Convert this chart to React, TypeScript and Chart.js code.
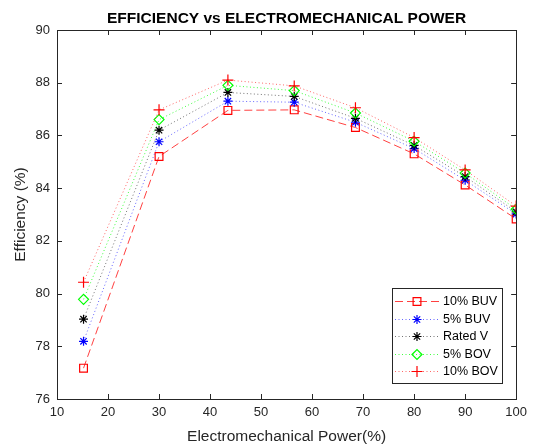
import React, { useEffect, useRef } from "react";
import { Chart, registerables } from "chart.js";
import { drawPoint } from "chart.js/helpers";

Chart.register(...registerables);

const titleText = "EFFICIENCY vs ELECTROMECHANICAL POWER";
const xLabel = "Electromechanical Power(%)";
const yLabel = "Efficiency (%)";

const powerPct = [15.2, 30, 43.5, 56.5, 68.5, 80, 90, 100];
const buv10 = [77.17, 85.2, 86.95, 86.97, 86.3, 85.3, 84.12, 82.83];
const buv5 = [78.19, 85.76, 87.3, 87.26, 86.5, 85.5, 84.3, 83.02];
const ratedV = [79.03, 86.2, 87.63, 87.48, 86.65, 85.62, 84.44, 83.1];
const bov5 = [79.78, 86.6, 87.9, 87.7, 86.85, 85.78, 84.57, 83.2];
const bov10 = [80.43, 86.97, 88.1, 87.88, 87.05, 85.92, 84.69, 83.32];

const seriesLabels = ["10% BUV", "5% BUV", "Rated V", "5% BOV", "10% BOV"];

const FONT = "'Liberation Sans', Arial, sans-serif";
const AXIS = "#262626";

function makeDs(label: string, data: number[], line: string, mark: string, dash: number[], style: string, radius: number, order: number) {
  return {
    label,
    data: powerPct.map((x, i) => ({ x, y: data[i] })),
    borderColor: line,
    borderWidth: 1,
    borderDash: dash,
    pointStyle: style,
    pointRadius: radius,
    pointHoverRadius: radius,
    pointBorderColor: mark,
    pointBackgroundColor: "rgba(0,0,0,0)",
    pointBorderWidth: 1.2,
    fill: false,
    tension: 0,
    order,
  };
}

const boxPlugin = {
  id: "boxAxes",
  afterDraw(chart: any) {
    const { ctx, chartArea: a, scales } = chart;
    ctx.save();
    ctx.strokeStyle = AXIS;
    ctx.lineWidth = 1;
    ctx.setLineDash([]);
    ctx.strokeRect(Math.round(a.left) + 0.5, Math.round(a.top) + 0.5, Math.round(a.right - a.left), Math.round(a.bottom - a.top));
    const tl = 5;
    ctx.beginPath();
    scales.x.ticks.forEach((t: any) => {
      const px = Math.round(scales.x.getPixelForValue(t.value)) + 0.5;
      ctx.moveTo(px, a.bottom);
      ctx.lineTo(px, a.bottom - tl);
      ctx.moveTo(px, a.top);
      ctx.lineTo(px, a.top + tl);
    });
    scales.y.ticks.forEach((t: any) => {
      const py = Math.round(scales.y.getPixelForValue(t.value)) + 0.5;
      ctx.moveTo(a.left, py);
      ctx.lineTo(a.left + tl, py);
      ctx.moveTo(a.right, py);
      ctx.lineTo(a.right - tl, py);
    });
    ctx.stroke();
    ctx.restore();
  },
};

const legendPlugin = {
  id: "boxLegend",
  afterDraw(chart: any) {
    const { ctx, chartArea: a } = chart;
    const w = 110;
    const h = 95;
    const right = Math.round(a.right - 14);
    const bottom = Math.round(a.bottom - 16);
    const left = right - w;
    const top = bottom - h;
    ctx.save();
    ctx.fillStyle = "#ffffff";
    ctx.fillRect(left, top, w, h);
    ctx.strokeStyle = AXIS;
    ctx.lineWidth = 1;
    ctx.setLineDash([]);
    ctx.strokeRect(left + 0.5, top + 0.5, w, h);
    chart.data.datasets.forEach((ds: any, i: number) => {
      const y = Math.round(top + 13 + i * 17.6) + 0.5;
      ctx.save();
      ctx.strokeStyle = ds.borderColor;
      ctx.lineWidth = 1;
      ctx.setLineDash(ds.borderDash || []);
      ctx.beginPath();
      ctx.moveTo(left + 3, y);
      ctx.lineTo(left + 47, y);
      ctx.stroke();
      ctx.setLineDash([]);
      ctx.strokeStyle = ds.pointBorderColor;
      ctx.fillStyle = "rgba(0,0,0,0)";
      ctx.lineWidth = 1.2;
      drawPoint(ctx, { pointStyle: ds.pointStyle, rotation: 0, radius: ds.pointRadius, borderWidth: 1.2 } as any, left + 25, y);
      ctx.restore();
      ctx.fillStyle = "#000000";
      ctx.font = `12.5px ${FONT}`;
      ctx.textBaseline = "middle";
      ctx.textAlign = "left";
      ctx.fillText(ds.label, left + 51, y);
    });
    ctx.restore();
  },
};

export default function App() {
  const ref = useRef<HTMLCanvasElement | null>(null);
  useEffect(() => {
    if (!ref.current) return;
    const chart = new Chart(ref.current, {
      type: "line",
      data: {
        datasets: [
          makeDs(seriesLabels[0], buv10, "rgba(255,0,0,0.75)", "#ff0000", [8, 4], "rect", 5.5, 5),
          makeDs(seriesLabels[1], buv5, "rgba(0,0,255,0.6)", "#0000ff", [1, 2.5], "star", 4.5, 4),
          makeDs(seriesLabels[2], ratedV, "rgba(0,0,0,0.55)", "#000000", [1, 2.5], "star", 4.5, 3),
          makeDs(seriesLabels[3], bov5, "rgba(0,255,0,0.75)", "#00ff00", [1, 2.5], "rectRot", 5, 2),
          makeDs(seriesLabels[4], bov10, "rgba(255,0,0,0.6)", "#ff0000", [1, 2.5], "cross", 5.5, 1),
        ] as any,
      },
      options: {
        animation: false,
        responsive: false,
        layout: { padding: { left: 0, right: 16, top: 0, bottom: 0 } },
        plugins: {
          legend: { display: false },
          tooltip: { enabled: false },
          title: {
            display: true,
            text: titleText,
            fullSize: false,
            color: "#000000",
            font: { family: FONT, size: 15.5, weight: "bold" },
            padding: { top: 9, bottom: 2.4 },
          },
        },
        scales: {
          x: {
            type: "linear",
            min: 10,
            max: 100,
            ticks: { stepSize: 10, color: AXIS, font: { family: FONT, size: 13 }, padding: 6, maxRotation: 0, autoSkip: false },
            grid: { display: false, drawTicks: false },
            border: { display: false },
            title: { display: true, text: xLabel, color: AXIS, font: { family: FONT, size: 15.5 }, padding: { top: 2, bottom: 1 } },
            afterFit: (s: any) => { s.height = 48; },
          },
          y: {
            type: "linear",
            min: 76,
            max: 90,
            ticks: { stepSize: 2, color: AXIS, font: { family: FONT, size: 13 }, padding: 7 },
            grid: { display: false, drawTicks: false },
            border: { display: false },
            title: { display: true, text: yLabel, color: AXIS, font: { family: FONT, size: 15.5 }, padding: { top: 11, bottom: 0 } },
            afterFit: (s: any) => { s.width = 57; },
          },
        },
      } as any,
      plugins: [boxPlugin, legendPlugin],
    });
    return () => chart.destroy();
  }, []);
  return (
    <div style={{ position: "fixed", left: 0, top: 0, width: 533, height: 447, background: "#ffffff" }}>
      <canvas ref={ref} width={533} height={447} style={{ display: "block" }} />
    </div>
  );
}
